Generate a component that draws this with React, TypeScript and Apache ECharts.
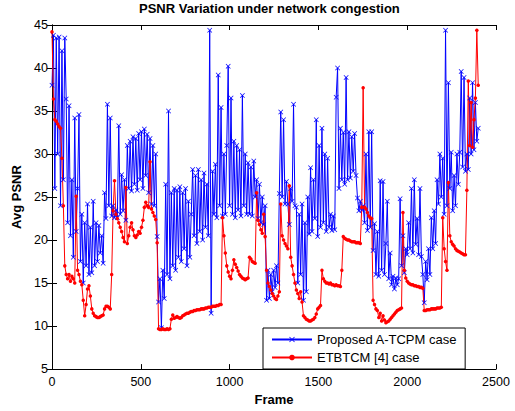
import React, { useEffect, useRef } from "react";
import * as echarts from "echarts";

// Frame spacing between consecutive readings (x positions)
const FRAME_STEP = 8;

const xTickMin = 0;
const xTickMax = 2500;
const xTickStep = 500;
const yTickMin = 5;
const yTickMax = 45;
const yTickStep = 5;

const seriesNames = ["Proposed A-TCPM case", "ETBTCM [4] case"];

// Proposed A-TCPM case (blue), one value per FRAME_STEP frames
const blueValues = [
  38, 43.8, 26, 43.5, 30, 43.6, 24, 42, 27, 43.5,
  36.4, 22, 35.6, 20.5, 27, 18, 34.2, 21, 26, 34.6, 17.5,
  23, 15, 22, 17, 24.2, 16, 21.5,
  16.2, 24.5, 17, 22, 17.5, 21.7, 18.5, 20.5, 17.3,
  25.5, 22.5, 35.8, 24, 34.2, 22.8, 24, 22.6, 23.5, 22.6, 33.3, 23,
  27.6, 23.4, 27, 22.3,
  31, 26, 31.5, 25.7, 32, 26.5, 31.8, 25.8, 32.4, 27, 32.6, 26, 32.9, 27.5, 32.3, 25.5, 31.8, 24.2, 31, 24, 30,
  20.4, 12.8,
  15.5, 9.8, 16.5, 13.2, 26.5, 16, 35, 15.5,
  25.5, 17, 26, 16.5, 25.8, 18, 26.2, 17.5, 25.5, 19, 26, 17, 24.5, 18, 23,
  28.2, 20.5, 27.5, 19.6, 28.2, 21, 27, 20, 27.8, 21.5, 26.5, 20.5,
  44.4, 11.5,
  28, 23, 28.8, 22.6, 39.2, 24, 35.4, 22.8,
  30, 23, 31, 40.2, 24, 36.5, 23, 31.5, 22.6,
  31, 23.5, 30.5, 22.8, 36.8, 24, 30, 23,
  29, 23, 28.5, 22.8, 29.2, 25,
  27, 22.5, 26.5, 22, 25, 21.8, 24,
  13, 16.5, 13.2, 16, 14, 16.5, 14.5, 17, 15, 25.4,
  34.9, 25, 34, 24.2, 26.8, 24.2, 21.8, 26, 24.5, 35.8, 24, 23.8,
  15, 23, 16, 24.2, 13, 22, 14,
  25, 20.7, 28.4, 21, 27, 22.5, 34, 20.4,
  31, 21.5, 33, 22, 30, 21,
  29.5, 21.5, 23, 21.1, 22.8, 21.2, 36.6,
  40, 26, 33, 27, 32.5, 26.5, 38.9, 27,
  32.6, 27.2, 32, 28, 32.4, 27.5,
  24.9, 23.4, 24.5, 23.5, 24,
  22, 30, 21.1, 32.6, 21.5, 32.6,
  18.8, 21.9, 16, 21, 15.8, 26.9, 16.5, 26.8,
  16, 19.6, 24.5, 15.5, 18.5, 14.8, 15.8, 14.3, 15.6, 14.8, 15.5, 24.8,
  17, 20.5, 16.2, 19,
  18.3, 22, 19, 26, 18.5, 27, 19.5, 22.5, 18.3, 26, 18.1,
  16, 12.7, 17.5, 15.4, 19, 16,
  22.6, 19, 23.4, 19.6, 27,
  24.2, 30, 25, 29.5, 23, 44.4, 24, 38.3,
  26, 30.2, 23.4, 27.5, 24, 30, 26.5, 30.2, 39.6,
  28.5, 38.9, 28, 30, 28.2, 36.5,
  30, 38.3, 30.5, 36, 31.5, 33,
];

// ETBTCM [4] case (red)
const redValues = [
  44.2, 36.4, 34, 33.8, 33.5, 33.2, 33, 29.5, 24, 17,
  16, 15.5, 16, 15.2, 15.8, 15.5, 15, 25.1, 16.5, 16, 15.2,
  14.8, 13, 11.2, 12.5, 14.3, 14.7, 13.5, 12, 11.5, 11.2, 11.1, 11, 11, 11.1, 11.2, 11.3, 12, 12.3, 12.3, 12.2, 12,
  16, 23.4, 26.9, 23, 22.5, 22, 21.5, 21, 20.3, 19.8, 26.1, 19.6,
  20.5, 21.5, 22, 21.2, 20.5, 20.3, 20.6, 21, 20.8, 21.5, 22.3, 23.8, 24.4, 24, 23.8, 29.1, 23.6, 23.2, 22.8, 22.4, 19.7, 9.7,
  9.6, 9.6, 9.7, 9.6, 9.6, 9.7, 9.6, 9.7, 10.8, 11.3, 10.9, 11, 11.1, 11,
  10.9, 11, 11.2, 11.3, 11.4, 11.5, 11.5, 11.6, 11.7, 11.7, 11.8, 11.8, 11.9, 11.9, 11.9, 12, 12, 12, 12.1, 12.1, 12.2, 12.2, 12.2, 12.3, 12.3, 12.3, 12.4, 12.4, 12.5, 12.5,
  22.6, 20.5, 18.5, 17, 16.3, 15.8, 15.5, 16.5, 17.7, 17.2, 16.8, 16.4, 16, 15.8, 15.6, 15.5, 15.4, 15.5, 15.6, 18, 17.8, 17.5, 17.4, 17.3, 25.5, 22.3, 21.8, 21.2, 20.8, 23, 20.4,
  16.5, 15, 14.6, 14.2, 13.8, 13.5, 13.2, 13.1, 13.5, 14,
  24.2, 20.5, 20, 19.6, 19.3, 19, 26.3, 18, 17, 16, 15, 14.2, 13.8, 13.2, 14, 12.8, 11.2, 11, 10.8, 10.7, 10.6, 10.6, 10.7, 10.8, 11, 11.4, 12, 12.2, 12.4,
  16.5, 15.5, 15.2, 15, 15, 14.9, 15, 14.8, 14.8, 14.7, 14.8, 14.7, 14.7, 14.6, 16.5, 20.4, 20.2, 20.1, 20, 20, 19.9, 19.8, 19.8, 19.8, 19.7, 19.7, 19.7, 19.6,
  23.8, 37.7, 23.8, 23.6, 23.2, 22.8, 22.6, 22.5, 13,
  12.5, 12, 11.8, 11, 11.5, 10.6, 11.2, 10.7, 10.4, 10.5, 10.6, 10.8, 11, 11.2, 11.4, 11.6, 11.8, 11.9, 12, 12.1,
  23.2, 16.5, 15.6, 15.2, 15, 14.9, 14.8, 14.8, 14.7, 14.7, 14.6, 14.6, 14.5, 14.5, 14.4,
  11.8, 11.8, 11.9, 11.9, 11.9, 12, 12, 12, 12, 12.1, 12.1, 12.1, 12.2,
  22.6, 19, 17.5, 16.5, 26.7, 20.5, 19.8, 19.5, 19.3, 19, 18.8, 18.7, 18.6, 18.5, 18.4, 18.3, 18.3,
  25.8, 38.5, 31, 36, 30.8, 34, 36.5, 44.4, 38,
];

const FONT = "'Liberation Sans', Arial, Helvetica, sans-serif";
const X_SYMBOL = "path://M0,1L1,0L5,4L9,0L10,1L6,5L10,9L9,10L5,6L1,10L0,9L4,5Z";

export default function App() {
  const ref = useRef<HTMLDivElement>(null);

  useEffect(() => {
    if (!ref.current) return;
    const chart = echarts.init(ref.current, null, { renderer: "svg" });
    const blueData = blueValues.map((v, i) => [i * FRAME_STEP, v]);
    const redData = redValues.map((v, i) => [i * FRAME_STEP, v]);

    const axisLine = { show: true, lineStyle: { color: "#000", width: 1 } };
    const axisTick = { show: true, inside: true, length: 5, lineStyle: { color: "#000", width: 1 } };

    chart.setOption({
      animation: false,
      backgroundColor: "#fff",
      textStyle: { fontFamily: FONT },
      title: {
        text: "PSNR Variation under network congestion",
        left: 139,
        top: 2,
        padding: 0,
        textStyle: { fontFamily: FONT, fontSize: 13, fontWeight: "bold", color: "#000" },
      },
      grid: { left: 52, right: 19, top: 25, bottom: 37, containLabel: false },
      legend: {
        orient: "vertical",
        left: 263,
        top: 328,
        padding: [5, 8, 5, 8],
        itemGap: 5,
        itemWidth: 40,
        itemHeight: 7,
        backgroundColor: "#fff",
        borderColor: "#000",
        borderWidth: 1,
        borderRadius: 0,
        data: seriesNames,
        textStyle: { fontFamily: FONT, fontSize: 13, color: "#000" },
      },
      xAxis: [
        {
          type: "value",
          min: xTickMin,
          max: xTickMax,
          interval: xTickStep,
          name: "Frame",
          nameLocation: "middle",
          nameGap: 23,
          nameTextStyle: { fontFamily: FONT, fontSize: 13, fontWeight: "bold", color: "#000" },
          axisLine,
          axisTick,
          splitLine: { show: false },
          axisLabel: {
            color: "#000",
            fontSize: 12.5,
            fontFamily: FONT,
            margin: 6,
            formatter: (v: number) => String(v),
          },
        },
        {
          type: "value",
          position: "top",
          min: xTickMin,
          max: xTickMax,
          interval: xTickStep,
          axisLine,
          axisTick,
          splitLine: { show: false },
          axisLabel: { show: false },
        },
      ],
      yAxis: [
        {
          type: "value",
          min: yTickMin,
          max: yTickMax,
          interval: yTickStep,
          name: "Avg PSNR",
          nameLocation: "middle",
          nameGap: 28,
          nameTextStyle: { fontFamily: FONT, fontSize: 13, fontWeight: "bold", color: "#000" },
          axisLine,
          axisTick,
          splitLine: { show: false },
          axisLabel: {
            color: "#000",
            fontSize: 12.5,
            fontFamily: FONT,
            margin: 4,
            formatter: (v: number) => String(v),
          },
        },
        {
          type: "value",
          position: "right",
          min: yTickMin,
          max: yTickMax,
          interval: yTickStep,
          axisLine,
          axisTick,
          splitLine: { show: false },
          axisLabel: { show: false },
        },
      ],
      series: [
        {
          name: seriesNames[0],
          type: "line",
          data: blueData,
          xAxisIndex: 0,
          yAxisIndex: 0,
          showAllSymbol: true,
          symbol: X_SYMBOL,
          symbolSize: 5,
          lineStyle: { color: "#0000ff", width: 1 },
          itemStyle: { color: "#0000ff" },
          emphasis: { disabled: true },
        },
        {
          name: seriesNames[1],
          type: "line",
          data: redData,
          xAxisIndex: 0,
          yAxisIndex: 0,
          showAllSymbol: true,
          symbol: "circle",
          symbolSize: 3.5,
          lineStyle: { color: "#ff0000", width: 1 },
          itemStyle: { color: "#ff0000" },
          emphasis: { disabled: true },
        },
      ],
    });

    return () => chart.dispose();
  }, []);

  return (
    <div
      ref={ref}
      style={{ position: "fixed", left: 0, top: 0, width: 515, height: 411, background: "#fff" }}
    />
  );
}
